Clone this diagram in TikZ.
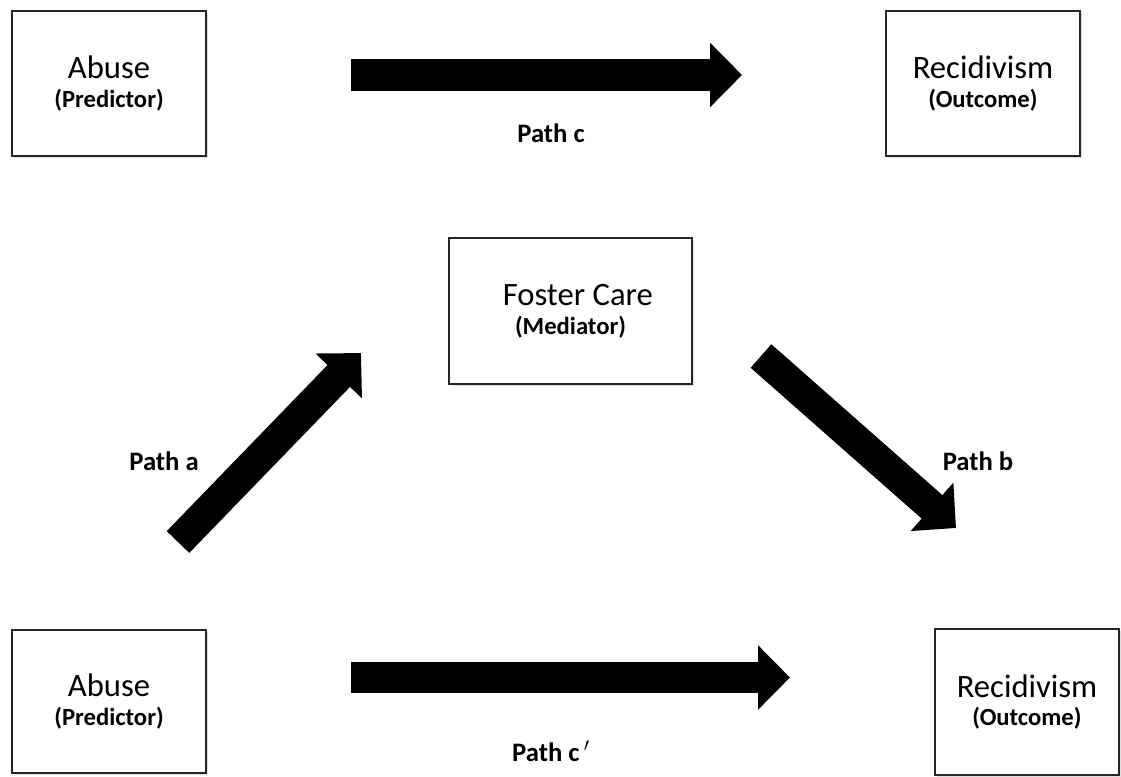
\documentclass[tikz,border=0pt]{standalone}
\usepackage{fontspec}
\setmainfont{Carlito}
\usetikzlibrary{arrows.meta,shadows}

\newcommand{\boxtitle}{\fontsize{24.5}{26}\selectfont}
\newcommand{\boxsub}{\fontsize{18.5}{21}\selectfont\bfseries}

\begin{document}
\begin{tikzpicture}[x=0.75pt,y=-0.75pt,
    box/.style={draw=black!85, line width=1.1pt, fill=white, align=center,
        inner sep=0pt, font=\fontsize{18}{21.5}\selectfont,
        drop shadow={shadow xshift=1.5pt, shadow yshift=-1.5pt, opacity=0.25}},
    bigarrow/.style={line width=23.5pt,
        -{Triangle[length=24pt,width=47pt]}},
    pathlbl/.style={font=\fontsize{20}{23}\selectfont\bfseries}]
    \useasboundingbox (0,0) rectangle (1121,776);

    % the five boxes
    \node[box, minimum width=145.5pt, minimum height=108.75pt]
        (abuseTop) at (109,83.5) {{\boxtitle Abuse}\\{\boxsub (Predictor)}};
    \node[box, minimum width=145.5pt, minimum height=108.75pt]
        (recidTop) at (983,83.5) {{\boxtitle Recidivism}\\{\boxsub (Outcome)}};
    \node[box, minimum width=182.25pt, minimum height=109.5pt]
        (foster) at (570.5,311) {\hspace*{11pt}{\boxtitle Foster Care}\\{\boxsub (Mediator)}};
    \node[box, minimum width=145.5pt, minimum height=107.25pt]
        (abuseBot) at (109,701.5) {{\boxtitle Abuse}\\{\boxsub (Predictor)}};
    \node[box, minimum width=138pt, minimum height=109.5pt]
        (recidBot) at (1027,702) {{\boxtitle Recidivism}\\{\boxsub (Outcome)}};

    % arrow ends
    \coordinate (cFrom) at (351,75);
    \coordinate (cTo) at (742,75);
    \coordinate (aFrom) at (178,542);
    \coordinate (aTo) at (361,353);
    \coordinate (bFrom) at (761,356);
    \coordinate (bTo) at (956,528);
    \coordinate (dFrom) at (351,677.5);
    \coordinate (dTo) at (790,677.5);

    \draw[bigarrow] (cFrom) -- (cTo);
    \draw[bigarrow] (aFrom) -- (aTo);
    \draw[bigarrow] (bFrom) -- (bTo);
    \draw[bigarrow] (dFrom) -- (dTo);

    % labels
    \node[pathlbl] (lblC) at (551,133) {Path c};
    \node[pathlbl] (lblA) at (164,461) {Path a};
    \node[pathlbl] (lblB) at (978,461) {Path b};
    \node[pathlbl] (lblD) at (551,751) {Path c\,$^{\prime}$};
\end{tikzpicture}
\end{document}
